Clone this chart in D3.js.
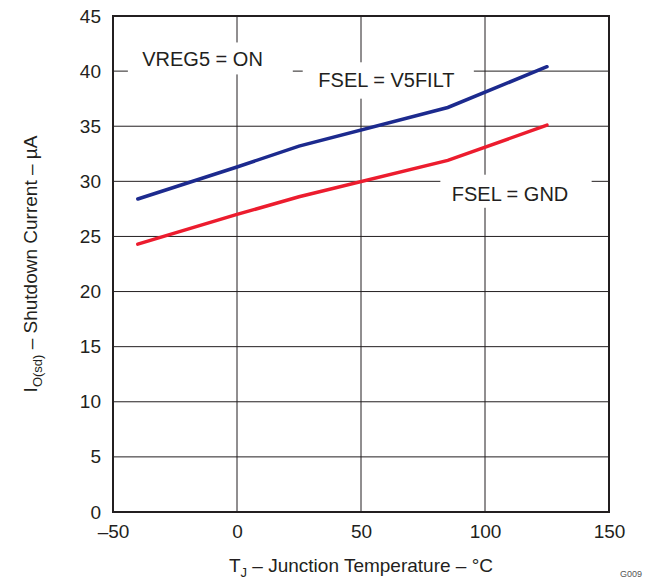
<!DOCTYPE html>
<html>
<head>
<meta charset="utf-8">
<script src="https://cdn.jsdelivr.net/npm/d3@7"></script>
<style>
  body { margin: 0; background: #fff; }
  svg { display: block; font-family: "Liberation Sans", Arial, Helvetica, sans-serif; }
</style>
</head>
<body>
<div id="chart"></div>
<script>
// data
const temps = [-40, 0, 25, 85, 125];
const v5filt = [28.4, 31.3, 33.2, 36.7, 40.4];
const gnd = [24.3, 27.0, 28.6, 31.9, 35.1];
const xTicks = [-50, 0, 50, 100, 150];
const yTicks = [0, 5, 10, 15, 20, 25, 30, 35, 40, 45];

const width = 668, height = 579;
const margin = { top: 16, right: 59, bottom: 67, left: 113 };
const ink = "#231f20";

const svg = d3.select("#chart").append("svg")
  .attr("width", width)
  .attr("height", height);

const x = d3.scaleLinear().domain([-50, 150]).range([margin.left, width - margin.right]);
const y = d3.scaleLinear().domain([0, 45]).range([height - margin.bottom, margin.top]);

// grid
svg.append("g")
  .selectAll("line.v")
  .data(xTicks.slice(1, -1))
  .join("line")
    .attr("x1", d => x(d)).attr("x2", d => x(d))
    .attr("y1", y(45)).attr("y2", y(0))
    .attr("stroke", ink).attr("stroke-width", 1);

svg.append("g")
  .selectAll("line.h")
  .data(yTicks.slice(1, -1))
  .join("line")
    .attr("x1", x(-50)).attr("x2", x(150))
    .attr("y1", d => y(d)).attr("y2", d => y(d))
    .attr("stroke", ink).attr("stroke-width", 1);

// white boxes behind the notes (they cut the grid)
const boxes = [
  { x0: -44, x1: 22.5, y0: 42.6, y1: 39.7 },
  { x0: 26.5, x1: 95.5, y0: 40.8, y1: 37.5 },
  { x0: 82, x1: 143, y0: 30.6, y1: 27.6 }
];
svg.append("g")
  .selectAll("rect")
  .data(boxes)
  .join("rect")
    .attr("x", d => x(d.x0))
    .attr("y", d => y(d.y0))
    .attr("width", d => x(d.x1) - x(d.x0))
    .attr("height", d => y(d.y1) - y(d.y0))
    .attr("fill", "#fff");

// curves
const line = d3.line()
  .x((d, i) => x(temps[i]))
  .y(d => y(d));

svg.append("path")
  .datum(v5filt)
  .attr("d", line)
  .attr("fill", "none")
  .attr("stroke", "#1c2a8e")
  .attr("stroke-width", 3.5)
  .attr("stroke-linecap", "round");

svg.append("path")
  .datum(gnd)
  .attr("d", line)
  .attr("fill", "none")
  .attr("stroke", "#ec1c2e")
  .attr("stroke-width", 3.5)
  .attr("stroke-linecap", "round");

// frame
svg.append("rect")
  .attr("x", x(-50)).attr("y", y(45))
  .attr("width", x(150) - x(-50))
  .attr("height", y(0) - y(45))
  .attr("fill", "none")
  .attr("stroke", ink)
  .attr("stroke-width", 2);

// axes
function xAxis(g) {
  g.attr("transform", `translate(0,${y(0)})`)
    .call(d3.axisBottom(x).tickValues(xTicks).tickSize(0).tickPadding(13)
      .tickFormat(d => d < 0 ? "\u2013" + Math.abs(d) : d))
    .attr("font-size", "19px")
    .attr("font-family", null);
  g.select(".domain").remove();
  g.selectAll("text").attr("fill", ink);
}

function yAxis(g) {
  g.attr("transform", `translate(${x(-50)},0)`)
    .call(d3.axisLeft(y).tickValues(yTicks).tickSize(0).tickPadding(12))
    .attr("font-size", "19px")
    .attr("font-family", null);
  g.select(".domain").remove();
  g.selectAll("text").attr("fill", ink);
}

svg.append("g").call(xAxis);
svg.append("g").call(yAxis);

// notes
const notes = [
  { t: "VREG5 = ON", tx: -38.2, ty: 40.5 },
  { t: "FSEL = V5FILT", tx: 32.8, ty: 38.6 },
  { t: "FSEL = GND", tx: 86.6, ty: 28.2 }
];
svg.append("g")
  .selectAll("text")
  .data(notes)
  .join("text")
    .attr("x", d => x(d.tx))
    .attr("y", d => y(d.ty))
    .attr("font-size", "20px")
    .attr("fill", ink)
    .text(d => d.t);

// axis titles
const xt = svg.append("text")
  .attr("x", (x(-50) + x(150)) / 2)
  .attr("y", 572)
  .attr("text-anchor", "middle")
  .attr("font-size", "19px")
  .attr("fill", ink);
xt.append("tspan").text("T");
xt.append("tspan").attr("font-size", "13px").attr("dy", 5).text("J");
xt.append("tspan").attr("dy", -5).text(" \u2013 Junction Temperature \u2013 \u00b0C");

const yt = svg.append("text")
  .attr("transform", `translate(37,${(y(0) + y(45)) / 2}) rotate(-90)`)
  .attr("text-anchor", "middle")
  .attr("font-size", "19px")
  .attr("fill", ink);
yt.append("tspan").text("I");
yt.append("tspan").attr("font-size", "13px").attr("dy", 5).text("O(sd)");
yt.append("tspan").attr("dy", -5).text(" \u2013 Shutdown Current \u2013 \u00b5A");

// figure id in the bottom-right corner
svg.append("text")
  .attr("x", 620).attr("y", 577)
  .attr("font-size", "9px")
  .attr("fill", "#555")
  .text("G009");
</script>
</body>
</html>
